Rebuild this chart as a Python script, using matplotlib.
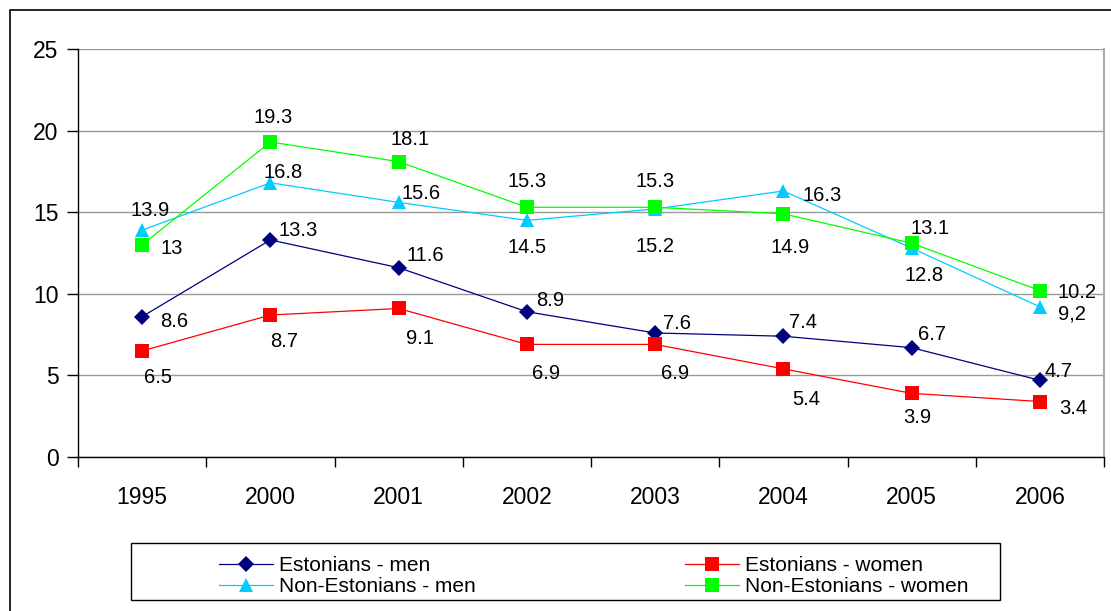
import matplotlib.pyplot as plt
from matplotlib.patches import Rectangle

plt.rcParams["font.family"] = ["Liberation Sans", "DejaVu Sans"]

# data
years = ["1995", "2000", "2001", "2002", "2003", "2004", "2005", "2006"]
est_men = [8.6, 13.3, 11.6, 8.9, 7.6, 7.4, 6.7, 4.7]
est_women = [6.5, 8.7, 9.1, 6.9, 6.9, 5.4, 3.9, 3.4]
non_men = [13.9, 16.8, 15.6, 14.5, 15.2, 16.3, 12.8, 9.2]
non_women = [13, 19.3, 18.1, 15.3, 15.3, 14.9, 13.1, 10.2]
non_men_labels = ["13.9", "16.8", "15.6", "14.5", "15.2", "16.3", "12.8", "9,2"]

# label offsets (pixels, right / down) for each point
off_men = [(32, 5), (28, -9), (27, -12), (23, -11), (22, -9), (20, -14), (20, -13), (19, -9)]
off_women = [(16, 27), (14, 26), (21, 30), (19, 29), (20, 29), (23, 31), (6, 24), (33, 7)]
off_non_men = [(8, -20), (13, -10), (22, -9), (0, 27), (0, 38), (39, 5), (12, 27), (32, 7)]
off_non_women = [(30, 4), (3, -25), (11, -22), (0, -26), (0, -26), (7, 34), (18, -15), (37, 2)]

W, H = 1111, 611
fig = plt.figure(figsize=(W / 100, H / 100), dpi=100)
ax = fig.add_axes([78 / W, 1 - 457 / H, (1104 - 78) / W, (457 - 49) / H])

# outer chart frame
fig.add_artist(Rectangle((10 / W, -0.1), 1.2, 1.1 - 10 / H, transform=fig.transFigure,
                         fill=False, edgecolor="black", linewidth=1.2))

x = list(range(len(years)))
series = [
    (est_men, "Estonians - men", "#000080", "D", 8, [f"{v}" for v in est_men], off_men),
    (est_women, "Estonians - women", "#FF0000", "s", 9.5, [f"{v}" for v in est_women], off_women),
    (non_men, "Non-Estonians - men", "#00CCFF", "^", 9.5, non_men_labels, off_non_men),
    (non_women, "Non-Estonians - women", "#00FF00", "s", 9.5, [f"{v:g}" for v in non_women], off_non_women),
]

handles = []
for vals, name, color, marker, ms, labels, offs in series:
    h, = ax.plot(x, vals, color=color, marker=marker, markersize=ms, linewidth=0.9,
                 markeredgewidth=0, label=name, zorder=3)
    handles.append(h)
    for xi, v, lab, (dx, dy) in zip(x, vals, labels, offs):
        ax.annotate(lab, (xi, v), xytext=(dx, -dy), textcoords="offset pixels",
                    ha="center", va="center", fontsize=14.5, color="black", zorder=4)

ax.set_xlim(-0.5, len(years) - 0.5)
ax.set_ylim(0, 25)
ax.set_yticks([0, 5, 10, 15, 20, 25])
ax.set_xticks(x)
ax.set_xticklabels(years)
ax.set_xticks([i - 0.5 for i in range(len(years) + 1)], minor=True)
ax.tick_params(axis="x", which="major", length=0, pad=21, labelsize=16.5)
ax.tick_params(axis="x", which="minor", length=7, width=1, direction="out")
ax.tick_params(axis="y", length=8, width=1, direction="out", labelsize=16.5, pad=6)

ax.yaxis.grid(True, color="#999999", linewidth=1)
ax.set_axisbelow(True)
ax.spines["top"].set_visible(False)
ax.spines["right"].set_color("#aaaaaa")
ax.spines["right"].set_linewidth(1.5)
ax.spines["left"].set_linewidth(1)
ax.spines["bottom"].set_linewidth(1)

# legend box
fig.add_artist(Rectangle((131 / W, 1 - 600 / H), (1000 - 131) / W, (600 - 543) / H,
                         transform=fig.transFigure, fill=False, edgecolor="black", linewidth=1))
# legend fills column by column: men entries left, women entries right
leg_handles = [handles[0], handles[2], handles[1], handles[3]]
fig.legend(leg_handles, [h.get_label() for h in leg_handles], ncol=2,
           loc="upper left", bbox_to_anchor=(219 / W, 1 - 556 / H),
           frameon=False, fontsize=15, handlelength=2.6, handletextpad=0.3,
           labelspacing=0.12, columnspacing=10.0, borderpad=0, borderaxespad=0)

fig.savefig("out.png", dpi=100)
